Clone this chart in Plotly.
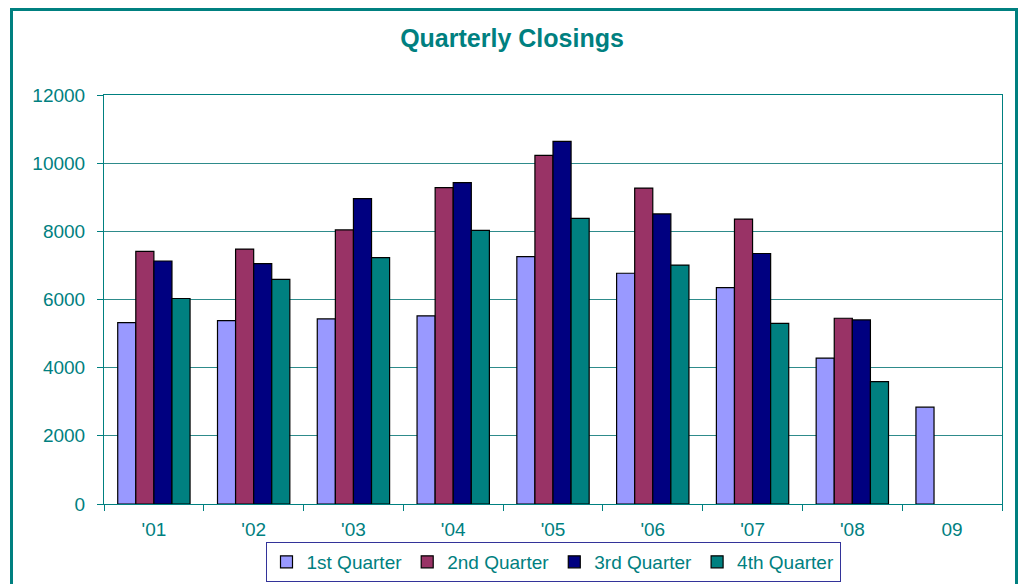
import plotly.graph_objects as go

years = ["'01", "'02", "'03", "'04", "'05", "'06", "'07", "'08", "09"]
q1 = [5320, 5380, 5430, 5520, 7260, 6770, 6350, 4280, 2840]
q2 = [7410, 7480, 8040, 9280, 10230, 9270, 8360, 5450, None]
q3 = [7130, 7050, 8960, 9430, 10640, 8510, 7350, 5400, None]
q4 = [6030, 6590, 7230, 8030, 8380, 7010, 5300, 3590, None]
y_ticks = [0, 2000, 4000, 6000, 8000, 10000, 12000]

series = [("1st Quarter", q1, "#9999FF"),
          ("2nd Quarter", q2, "#993366"),
          ("3rd Quarter", q3, "#000080"),
          ("4th Quarter", q4, "#008080")]

TEAL = "#008080"
FONT = "Liberation Sans, Arial, sans-serif"

fig = go.Figure()
for name, vals, col in series:
    fig.add_trace(go.Bar(x=years, y=vals, name=name,
                         marker=dict(color=col, line=dict(color="#000000", width=1.2))))

L, R, T, B = 104, 22, 95, 80
W, H = 1024, 584
pw, ph = W - L - R, H - T - B

def px_x(x):
    return (x - L) / pw

def px_y(y):
    return (H - B - y) / ph

fig.update_layout(
    width=W, height=H,
    margin=dict(l=L, r=R, t=T, b=B),
    paper_bgcolor="white", plot_bgcolor="white",
    barmode="group", bargap=0.275, bargroupgap=0,
    font=dict(family=FONT, color=TEAL, size=19),
    title=dict(text="<b>Quarterly Closings</b>", x=0.5, xanchor="center",
               y=1 - 38 / H, yanchor="middle",
               font=dict(family=FONT, size=25, color=TEAL)),
    showlegend=True,
    legend=dict(orientation="h", x=0.5, xanchor="center",
                yref="container", y=(H - 582) / H, yanchor="bottom",
                bordercolor="#333399", borderwidth=1, bgcolor="white",
                font=dict(family=FONT, size=19, color=TEAL),
                itemwidth=30, tracegroupgap=0),
    xaxis=dict(showline=True, linecolor=TEAL, linewidth=1, mirror=True,
               ticks="outside", tickson="boundaries", ticklen=6, tickcolor=TEAL,
               showgrid=False, tickfont=dict(size=19, color=TEAL),
               ticklabelstandoff=8, fixedrange=True, automargin=False),
    yaxis=dict(range=[0, 12000], tickmode="array", tickvals=y_ticks,
               ticktext=[str(v) for v in y_ticks],
               showline=True, linecolor=TEAL,
               linewidth=1, mirror=True, ticks="outside", ticklen=6, tickcolor=TEAL,
               showgrid=True, gridcolor="#2E8B8B", gridwidth=1,
               tickfont=dict(size=19, color=TEAL), ticklabelstandoff=8,
               zeroline=False, fixedrange=True, automargin=False),
)

fig.add_shape(type="rect", xref="paper", yref="paper",
              x0=px_x(11.5), x1=px_x(1016.5), y0=px_y(600), y1=px_y(9.5),
              line=dict(color=TEAL, width=3), fillcolor="rgba(0,0,0,0)", layer="below")

fig.write_html("out.html")
